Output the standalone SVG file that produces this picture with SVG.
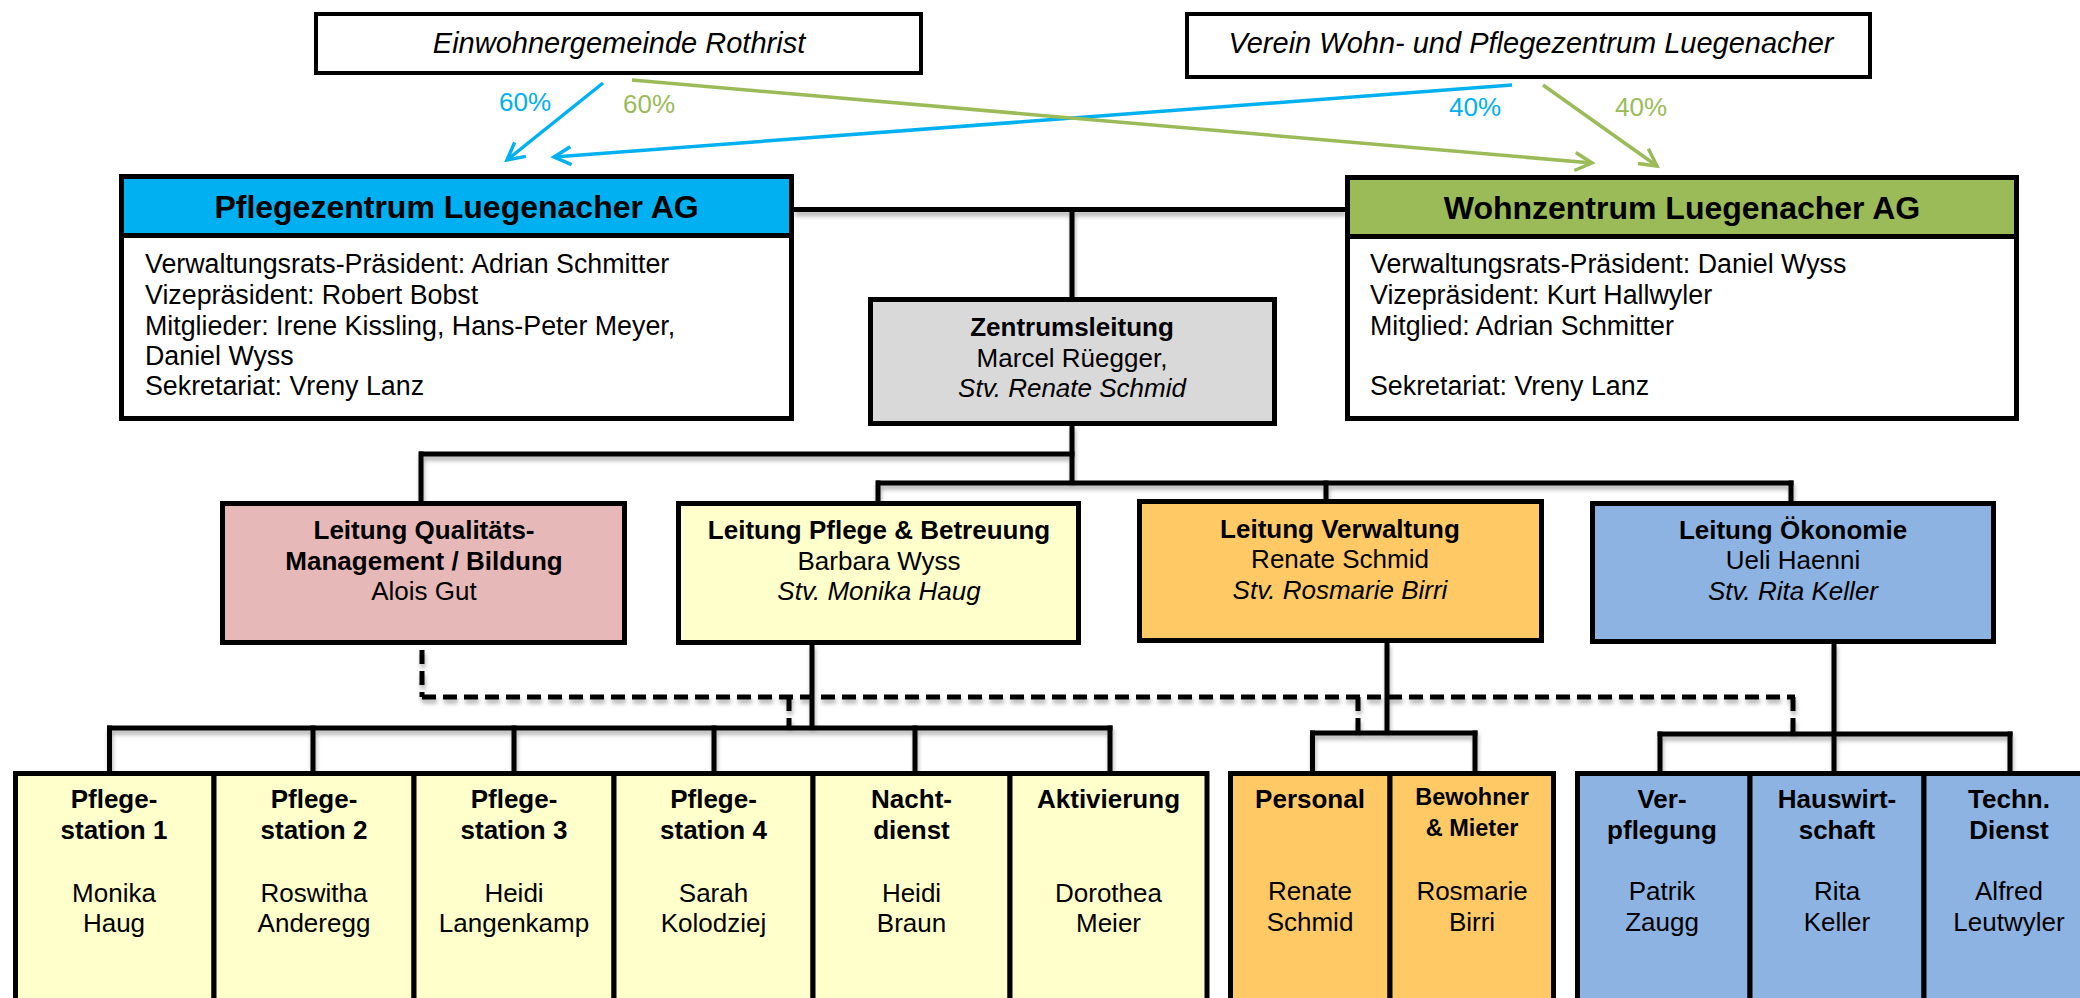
<svg xmlns="http://www.w3.org/2000/svg" width="2080" height="998" viewBox="0 0 2080 998">
<defs>
<style>
.bx{stroke:#000;stroke-width:5}
.tb{stroke:#000;stroke-width:4;fill:#fff}
.t{font-family:"Liberation Sans",Arial,sans-serif;font-size:26px;fill:#000}
.ag{font-size:26.8px}
.b{font-weight:bold}
.i{font-style:italic}
.c{text-anchor:middle}
.h{font-size:32px}
.top{font-size:29px}
.pct{font-size:26px}
.conn line{stroke:#000;stroke-width:5;fill:none}
.conn line.d{stroke-dasharray:14 7}
.arr{stroke-width:3.5;fill:none}
.yel{fill:#FFFFCC}
.org{fill:#FFCA66}
.blu{fill:#8DB3E2}
</style>
<filter id="sh" filterUnits="userSpaceOnUse" x="0" y="0" width="2080" height="998">
<feDropShadow dx="1" dy="4" stdDeviation="2" flood-color="#000" flood-opacity="0.3"/>
</filter>
<marker id="mb" viewBox="-22 -12 26 24" refX="0" refY="0" markerWidth="26" markerHeight="24" orient="auto" markerUnits="userSpaceOnUse">
<path d="M-17,-9 L0,0 L-17,9" fill="none" stroke="#00B0F0" stroke-width="3.5"/>
</marker>
<marker id="mg" viewBox="-22 -12 26 24" refX="0" refY="0" markerWidth="26" markerHeight="24" orient="auto" markerUnits="userSpaceOnUse">
<path d="M-17,-9 L0,0 L-17,9" fill="none" stroke="#9BBB59" stroke-width="3.5"/>
</marker>
</defs>
<rect width="2080" height="998" fill="#fff"/>

<g id="connectors">
<g class="conn" filter="url(#sh)">
<line x1="794" y1="209.5" x2="1345" y2="209.5"/>
<line x1="1072" y1="209.5" x2="1072" y2="298"/>
<line x1="1072" y1="425" x2="1072" y2="485"/>
<line x1="419" y1="454" x2="1074.5" y2="454"/>
<line x1="421" y1="451.5" x2="421" y2="502"/>
<line x1="876" y1="483" x2="1793.5" y2="483"/>
<line x1="878" y1="480.5" x2="878" y2="502"/>
<line x1="1326" y1="480.5" x2="1326" y2="500"/>
<line x1="1791" y1="480.5" x2="1791" y2="502"/>
<line x1="812" y1="644" x2="812" y2="730"/>
<line x1="107" y1="728" x2="1112.5" y2="728"/>
<line x1="109.5" y1="725.5" x2="109.5" y2="772"/>
<line x1="313" y1="725.5" x2="313" y2="772"/>
<line x1="514" y1="725.5" x2="514" y2="772"/>
<line x1="714" y1="725.5" x2="714" y2="772"/>
<line x1="915" y1="725.5" x2="915" y2="772"/>
<line x1="1110" y1="725.5" x2="1110" y2="772"/>
<line x1="1387" y1="642" x2="1387" y2="735"/>
<line x1="1310" y1="733" x2="1477.5" y2="733"/>
<line x1="1312.5" y1="730.5" x2="1312.5" y2="772"/>
<line x1="1475" y1="730.5" x2="1475" y2="772"/>
<line x1="1834" y1="643" x2="1834" y2="772"/>
<line x1="1657.5" y1="734" x2="2012.5" y2="734"/>
<line x1="1660" y1="731.5" x2="1660" y2="772"/>
<line x1="2010" y1="731.5" x2="2010" y2="772"/>
<line class="d" x1="422" y1="650" x2="422" y2="697"/>
<line class="d" x1="422" y1="697" x2="1795" y2="697"/>
<line class="d" x1="789" y1="697" x2="789" y2="727"/>
<line class="d" x1="1358" y1="697" x2="1358" y2="731"/>
<line class="d" x1="1793" y1="697" x2="1793" y2="732"/>
</g>
<g id="ownership">
<line class="arr" x1="603" y1="83" x2="507" y2="160" stroke="#00B0F0" marker-end="url(#mb)"/>
<line class="arr" x1="1512" y1="85" x2="554" y2="157" stroke="#00B0F0" marker-end="url(#mb)"/>
<line class="arr" x1="632" y1="80" x2="1592" y2="163" stroke="#9BBB59" marker-end="url(#mg)"/>
<line class="arr" x1="1543" y1="85" x2="1657" y2="166" stroke="#9BBB59" marker-end="url(#mg)"/>
<text class="t pct c" x="525" y="111" style="fill:#00B0F0">60%</text>
<text class="t pct c" x="649" y="113" style="fill:#9BBB59">60%</text>
<text class="t pct c" x="1475" y="116" style="fill:#00B0F0">40%</text>
<text class="t pct c" x="1641" y="116" style="fill:#9BBB59">40%</text>
</g>
</g>

<g id="einwohnergemeinde">
<rect class="tb" x="316" y="14" width="605" height="59"/>
<text class="t top i c" x="619" y="53">Einwohnergemeinde Rothrist</text>
</g>
<g id="verein">
<rect class="tb" x="1187" y="14" width="683" height="63"/>
<text class="t top i c" x="1531" y="53">Verein Wohn- und Pflegezentrum Luegenacher</text>
</g>

<g id="pflegezentrum-ag">
<rect class="bx" x="121.5" y="235.5" width="670" height="183" fill="#fff"/>
<rect class="bx" x="121.5" y="176.5" width="670" height="59" fill="#00B0F0"/>
<text class="t b h c" x="456.5" y="218">Pflegezentrum Luegenacher AG</text>
<text class="t ag" x="145" y="273">Verwaltungsrats-Präsident: Adrian Schmitter</text>
<text class="t ag" x="145" y="304">Vizepräsident: Robert Bobst</text>
<text class="t ag" x="145" y="335">Mitglieder: Irene Kissling, Hans-Peter Meyer,</text>
<text class="t ag" x="145" y="365">Daniel Wyss</text>
<text class="t ag" x="145" y="395">Sekretariat: Vreny Lanz</text>
</g>

<g id="wohnzentrum-ag">
<rect class="bx" x="1347.5" y="236.5" width="669" height="182" fill="#fff"/>
<rect class="bx" x="1347.5" y="177.5" width="669" height="59" fill="#9BBB59"/>
<text class="t b h c" x="1682" y="219">Wohnzentrum Luegenacher AG</text>
<text class="t ag" x="1370" y="273">Verwaltungsrats-Präsident: Daniel Wyss</text>
<text class="t ag" x="1370" y="304">Vizepräsident: Kurt Hallwyler</text>
<text class="t ag" x="1370" y="335">Mitglied: Adrian Schmitter</text>
<text class="t ag" x="1370" y="395">Sekretariat: Vreny Lanz</text>
</g>

<g id="zentrumsleitung">
<rect class="bx" x="870.5" y="299.5" width="404" height="124" fill="#D9D9D9"/>
<text class="t b c" x="1072" y="336">Zentrumsleitung</text>
<text class="t c" x="1072" y="367">Marcel Rüegger,</text>
<text class="t i c" x="1072" y="397">Stv. Renate Schmid</text>
</g>

<g id="leitung-qualitaet">
<rect class="bx" x="222.5" y="503.5" width="402" height="139" fill="#E6B9B8"/>
<text class="t b c" x="424" y="539">Leitung Qualitäts-</text>
<text class="t b c" x="424" y="570">Management / Bildung</text>
<text class="t c" x="424" y="600">Alois Gut</text>
</g>
<g id="leitung-pflege">
<rect class="bx yel" x="678.5" y="503.5" width="400" height="139"/>
<text class="t b c" x="879" y="539">Leitung Pflege &amp; Betreuung</text>
<text class="t c" x="879" y="570">Barbara Wyss</text>
<text class="t i c" x="879" y="600">Stv. Monika Haug</text>
</g>
<g id="leitung-verwaltung">
<rect class="bx org" x="1139.5" y="501.5" width="402" height="139"/>
<text class="t b c" x="1340" y="538">Leitung Verwaltung</text>
<text class="t c" x="1340" y="568">Renate Schmid</text>
<text class="t i c" x="1340" y="599">Stv. Rosmarie Birri</text>
</g>
<g id="leitung-oekonomie">
<rect class="bx blu" x="1592.5" y="503.5" width="401" height="138"/>
<text class="t b c" x="1793" y="539">Leitung Ökonomie</text>
<text class="t c" x="1793" y="569">Ueli Haenni</text>
<text class="t i c" x="1793" y="600">Stv. Rita Keller</text>
</g>

<g id="pflegestation-1">
<rect class="bx yel" x="15.5" y="773.5" width="198.5" height="240"/>
<text class="t b c" x="114" y="808">Pflege-</text>
<text class="t b c" x="114" y="839">station 1</text>
<text class="t c" x="114" y="902">Monika</text>
<text class="t c" x="114" y="932">Haug</text>
</g>
<g id="pflegestation-2">
<rect class="bx yel" x="214" y="773.5" width="200" height="240"/>
<text class="t b c" x="314" y="808">Pflege-</text>
<text class="t b c" x="314" y="839">station 2</text>
<text class="t c" x="314" y="902">Roswitha</text>
<text class="t c" x="314" y="932">Anderegg</text>
</g>
<g id="pflegestation-3">
<rect class="bx yel" x="414" y="773.5" width="200" height="240"/>
<text class="t b c" x="514" y="808">Pflege-</text>
<text class="t b c" x="514" y="839">station 3</text>
<text class="t c" x="514" y="902">Heidi</text>
<text class="t c" x="514" y="932">Langenkamp</text>
</g>
<g id="pflegestation-4">
<rect class="bx yel" x="614" y="773.5" width="199" height="240"/>
<text class="t b c" x="713.5" y="808">Pflege-</text>
<text class="t b c" x="713.5" y="839">station 4</text>
<text class="t c" x="713.5" y="902">Sarah</text>
<text class="t c" x="713.5" y="932">Kolodziej</text>
</g>
<g id="nachtdienst">
<rect class="bx yel" x="813" y="773.5" width="197" height="240"/>
<text class="t b c" x="911.5" y="808">Nacht-</text>
<text class="t b c" x="911.5" y="839">dienst</text>
<text class="t c" x="911.5" y="902">Heidi</text>
<text class="t c" x="911.5" y="932">Braun</text>
</g>
<g id="aktivierung">
<rect class="bx yel" x="1010" y="773.5" width="197" height="240"/>
<text class="t b c" x="1108.5" y="808">Aktivierung</text>
<text class="t c" x="1108.5" y="902">Dorothea</text>
<text class="t c" x="1108.5" y="932">Meier</text>
</g>

<g id="personal">
<rect class="bx org" x="1230.5" y="773.5" width="159.5" height="240"/>
<text class="t b c" x="1310" y="808">Personal</text>
<text class="t c" x="1310" y="900">Renate</text>
<text class="t c" x="1310" y="931">Schmid</text>
</g>
<g id="bewohner-mieter">
<rect class="bx org" x="1390" y="773.5" width="163.5" height="240"/>
<text class="t b c" x="1472" y="805" style="font-size:23.5px">Bewohner</text>
<text class="t b c" x="1472" y="836" style="font-size:23.5px">&amp; Mieter</text>
<text class="t c" x="1472" y="900">Rosmarie</text>
<text class="t c" x="1472" y="931">Birri</text>
</g>

<g id="verpflegung">
<rect class="bx blu" x="1577.5" y="773.5" width="172.5" height="240"/>
<text class="t b c" x="1662" y="808">Ver-</text>
<text class="t b c" x="1662" y="839">pflegung</text>
<text class="t c" x="1662" y="900">Patrik</text>
<text class="t c" x="1662" y="931">Zaugg</text>
</g>
<g id="hauswirtschaft">
<rect class="bx blu" x="1750" y="773.5" width="174" height="240"/>
<text class="t b c" x="1837" y="808">Hauswirt-</text>
<text class="t b c" x="1837" y="839">schaft</text>
<text class="t c" x="1837" y="900">Rita</text>
<text class="t c" x="1837" y="931">Keller</text>
</g>
<g id="techn-dienst">
<rect class="bx blu" x="1924" y="773.5" width="176" height="240"/>
<text class="t b c" x="2009" y="808">Techn.</text>
<text class="t b c" x="2009" y="839">Dienst</text>
<text class="t c" x="2009" y="900">Alfred</text>
<text class="t c" x="2009" y="931">Leutwyler</text>
</g>
</svg>
